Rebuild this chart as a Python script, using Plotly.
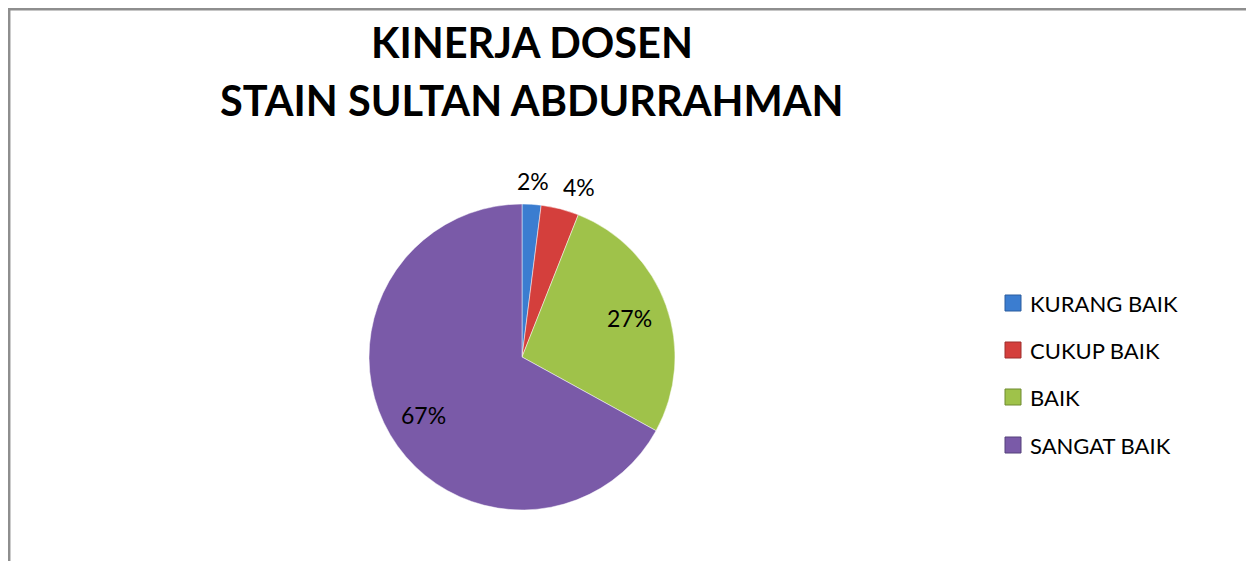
import math
import plotly.graph_objects as go

labels = ["KURANG BAIK", "CUKUP BAIK", "BAIK", "SANGAT BAIK"]
values = [2, 4, 27, 67]
colors = ["#3b7dd0", "#d43f3c", "#9fc24a", "#7a5aa8"]
edge_colors = ["#2a5d9e", "#9e2e2c", "#6f8a30", "#55407a"]
title_lines = ["KINERJA DOSEN", "STAIN SULTAN ABDURRAHMAN"]

# page body has an 8px margin; figure sized to fit the window
OFF = 8
FW, FH = 1254 - OFF, 561 - OFF
FONT = "Lato, 'Open Sans', sans-serif"
LABEL_SIZE = 23


def px(x):
    return (x - OFF) / FW


def py(y):
    return 1 - (y - OFF) / FH


CX, CY, R = 522, 357, 153      # pie centre / radius in window pixels

fig = go.Figure()
fig.add_trace(go.Pie(
    labels=labels,
    values=values,
    sort=False,
    direction="clockwise",
    rotation=0,
    marker=dict(colors=colors, line=dict(color="rgba(255,255,255,0.6)", width=0.8)),
    textinfo="none",
    domain=dict(x=[px(CX - R), px(CX + R)], y=[py(CY + R), py(CY - R)]),
    showlegend=False,
    hoverinfo="label+percent",
))

# data labels (Excel-style: inside at ~0.75R for large slices, outside for small ones)
total = sum(values)
cum = 0
prev_right = None
for v in values:
    frac = v / total
    mid = math.radians((cum + v / 2) / total * 360)
    cum += v
    text = f"{round(frac * 100)}%"
    w = LABEL_SIZE * (0.58 * (len(text) - 1) + 0.8)
    if frac >= 0.1:
        d = 0.745 * R
    else:
        d = R + 23
    lx = CX + d * math.sin(mid)
    ly = CY - d * math.cos(mid)
    if frac < 0.1:
        if prev_right is not None and lx - w / 2 < prev_right + 14:
            lx = prev_right + 14 + w / 2
        prev_right = lx + w / 2
    fig.add_annotation(
        text=text, x=px(lx), y=py(ly), xref="paper", yref="paper",
        xanchor="center", yanchor="middle", showarrow=False,
        font=dict(family=FONT, size=LABEL_SIZE, color="#000000"),
    )

# title lines
title_y = [42, 100]
for line, yy in zip(title_lines, title_y):
    fig.add_annotation(
        text=f"<b>{line}</b>", x=px(532), y=py(yy), xref="paper", yref="paper",
        xanchor="center", yanchor="middle", showarrow=False,
        font=dict(family=FONT, size=41.5, color="#000000"),
    )

# legend
row_y = [303, 350, 397, 445]
for lab, col, ec, yy in zip(labels, colors, edge_colors, row_y):
    fig.add_shape(
        type="rect", xref="paper", yref="paper",
        x0=px(1005), x1=px(1021), y0=py(yy + 8), y1=py(yy - 8),
        fillcolor=col, line=dict(color=ec, width=1),
    )
    fig.add_annotation(
        text=lab, x=px(1028), y=py(yy), xref="paper", yref="paper",
        xanchor="left", yanchor="middle", showarrow=False,
        font=dict(family=FONT, size=22, color="#000000"),
    )

# chart border
fig.add_shape(
    type="rect", xref="paper", yref="paper",
    x0=px(9.2), x1=px(1250), y0=-0.1, y1=py(9.2),
    line=dict(color="#8e8e8e", width=2.5), fillcolor="rgba(0,0,0,0)",
)

fig.update_layout(
    width=FW, height=FH,
    margin=dict(l=0, r=0, t=0, b=0),
    paper_bgcolor="#ffffff",
    plot_bgcolor="#ffffff",
)

fig.write_html("out.html")
